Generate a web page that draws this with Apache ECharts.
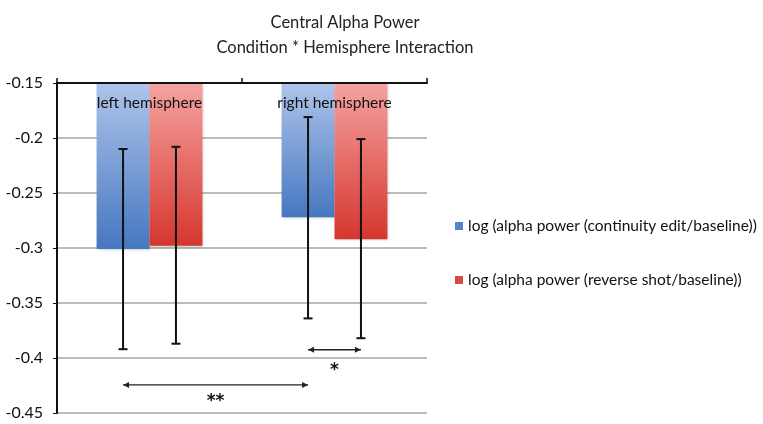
<!DOCTYPE html>
<html>
<head>
<meta charset="utf-8">
<script src="https://cdn.jsdelivr.net/npm/echarts@6/dist/echarts.min.js"></script>
<style>html,body{margin:0;padding:0;background:#fff}#c{width:763px;height:424px}</style>
</head>
<body>
<div id="c"></div>
<script>
const categories = ['left hemisphere', 'right hemisphere'];
const seriesNames = ['log (alpha power (continuity edit/baseline))', 'log (alpha power (reverse shot/baseline))'];
const continuityEdit = [-0.301, -0.272];
const reverseShot = [-0.298, -0.292];
const continuityErrHigh = [-0.210, -0.181];
const continuityErrLow = [-0.392, -0.364];
const reverseErrHigh = [-0.208, -0.201];
const reverseErrLow = [-0.387, -0.382];
const axisTop = -0.15;
const yTicks = { min: -0.45, max: -0.15, interval: 0.05 };
// significance brackets: [fromCategory, fromSeries, toCategory, toSeries, bracketValue, labelValue]
const sigBrackets = [
  [0, 0, 1, 0, -0.4245, -0.4395],
  [1, 0, 1, 1, -0.3925, -0.411]
];
const sigLabels = ['**', '*'];

const BAR_FRAC = 0.286;
const FONT = 'Lato, "Open Sans", sans-serif';

function barX(api, cat, which) {
  const band = api.size([1, 0])[0];
  const off = (which === 0 ? -1 : 1) * band * BAR_FRAC / 2;
  return api.coord([cat, yTicks.min])[0] + off;
}

const errData = [];
categories.forEach((c, i) => {
  errData.push([i, 0, continuityErrLow[i], continuityErrHigh[i]]);
  errData.push([i, 1, reverseErrLow[i], reverseErrHigh[i]]);
});

const chart = echarts.init(document.getElementById('c'));
chart.setOption({
  animation: false,
  title: {
    text: 'Central Alpha Power\nCondition * Hemisphere Interaction',
    left: 340, top: 5, textAlign: 'center',
    textStyle: { fontFamily: FONT, fontSize: 16.5, fontWeight: 'normal', color: '#222', lineHeight: 25 }
  },
  legend: {
    orient: 'vertical', left: 450, top: 212, itemGap: 36,
    itemWidth: 8, itemHeight: 8, icon: 'rect', itemStyle: { borderWidth: 0 },
    textStyle: { fontFamily: FONT, fontSize: 15.5, color: '#111', lineHeight: 18 },
    data: [
      { name: seriesNames[0], itemStyle: { color: '#5583c8' } },
      { name: seriesNames[1], itemStyle: { color: '#dd4a44' } }
    ]
  },
  grid: { left: 57, right: 336, top: 83, bottom: 11 },
  xAxis: {
    type: 'category', position: 'top', data: categories, z: 10,
    axisLine: { lineStyle: { color: '#111', width: 2 } },
    axisTick: { show: true, length: 5, lineStyle: { color: '#111', width: 1.5 } },
    axisLabel: { inside: true, margin: 12, fontFamily: FONT, fontSize: 15.5, color: '#111' }
  },
  yAxis: {
    type: 'value', min: yTicks.min, max: yTicks.max, interval: yTicks.interval,
    axisLine: { show: true, lineStyle: { color: '#111', width: 2 } },
    axisTick: { show: true, length: 4, lineStyle: { color: '#111' } },
    axisLabel: { margin: 14, fontFamily: FONT, fontSize: 16, color: '#111',
      formatter: v => String(Math.round(v * 100) / 100) },
    splitLine: { lineStyle: { color: '#a6a6a6', width: 1.5 } }
  },
  series: [
    { type: 'bar', name: 'baseB', stack: 'b', data: categories.map(() => axisTop),
      itemStyle: { color: 'transparent' }, barWidth: (BAR_FRAC * 100) + '%', barGap: '0%', silent: true },
    { type: 'bar', name: seriesNames[0], stack: 'b', data: continuityEdit.map(v => v - axisTop),
      barWidth: (BAR_FRAC * 100) + '%', barGap: '0%',
      itemStyle: {
        color: { type: 'linear', x: 0, y: 0, x2: 0, y2: 1,
          colorStops: [{ offset: 0, color: '#aec5ea' }, { offset: 1, color: '#4677c0' }] },
        shadowBlur: 3, shadowColor: 'rgba(0,0,0,0.25)', shadowOffsetX: 1, shadowOffsetY: 1
      } },
    { type: 'bar', name: 'baseR', stack: 'r', data: categories.map(() => axisTop),
      itemStyle: { color: 'transparent' }, barWidth: (BAR_FRAC * 100) + '%', barGap: '0%', silent: true },
    { type: 'bar', name: seriesNames[1], stack: 'r', data: reverseShot.map(v => v - axisTop),
      barWidth: (BAR_FRAC * 100) + '%', barGap: '0%',
      itemStyle: {
        color: { type: 'linear', x: 0, y: 0, x2: 0, y2: 1,
          colorStops: [{ offset: 0, color: '#f5a3a0' }, { offset: 1, color: '#d5362e' }] },
        shadowBlur: 3, shadowColor: 'rgba(0,0,0,0.25)', shadowOffsetX: 1, shadowOffsetY: 1
      } },
    { type: 'custom', name: 'err', z: 12, data: errData,
      renderItem: function (params, api) {
        const cat = api.value(0), which = api.value(1);
        const x = barX(api, cat, which);
        const yLo = api.coord([cat, api.value(2)])[1];
        const yHi = api.coord([cat, api.value(3)])[1];
        const st = { stroke: '#111', lineWidth: 2 };
        const cap = 4.5;
        return { type: 'group', children: [
          { type: 'line', shape: { x1: x, y1: yLo, x2: x, y2: yHi }, style: st },
          { type: 'line', shape: { x1: x - cap, y1: yHi, x2: x + cap, y2: yHi }, style: st },
          { type: 'line', shape: { x1: x - cap, y1: yLo, x2: x + cap, y2: yLo }, style: st }
        ] };
      } },
    { type: 'custom', name: 'sig', z: 12, data: sigBrackets,
      renderItem: function (params, api) {
        const x1 = barX(api, api.value(0), api.value(1));
        const x2 = barX(api, api.value(2), api.value(3));
        const y = api.coord([0, api.value(4)])[1];
        const ly = api.coord([0, api.value(5)])[1];
        const st = { stroke: '#222', lineWidth: 1.3 };
        const ah = 6, aw = 3;
        return { type: 'group', children: [
          { type: 'line', shape: { x1: x1, y1: y, x2: x2, y2: y }, style: st },
          { type: 'polygon', shape: { points: [[x1, y], [x1 + ah, y - aw], [x1 + ah, y + aw]] }, style: { fill: '#222' } },
          { type: 'polygon', shape: { points: [[x2, y], [x2 - ah, y - aw], [x2 - ah, y + aw]] }, style: { fill: '#222' } },
          { type: 'text', x: (x1 + x2) / 2, y: ly,
            style: { text: sigLabels[params.dataIndex], fontFamily: '"DejaVu Sans", sans-serif', fontSize: 17, fontWeight: 'bold', fill: '#111', align: 'center', verticalAlign: 'middle' } }
        ] };
      } }
  ]
});
</script>
</body>
</html>
